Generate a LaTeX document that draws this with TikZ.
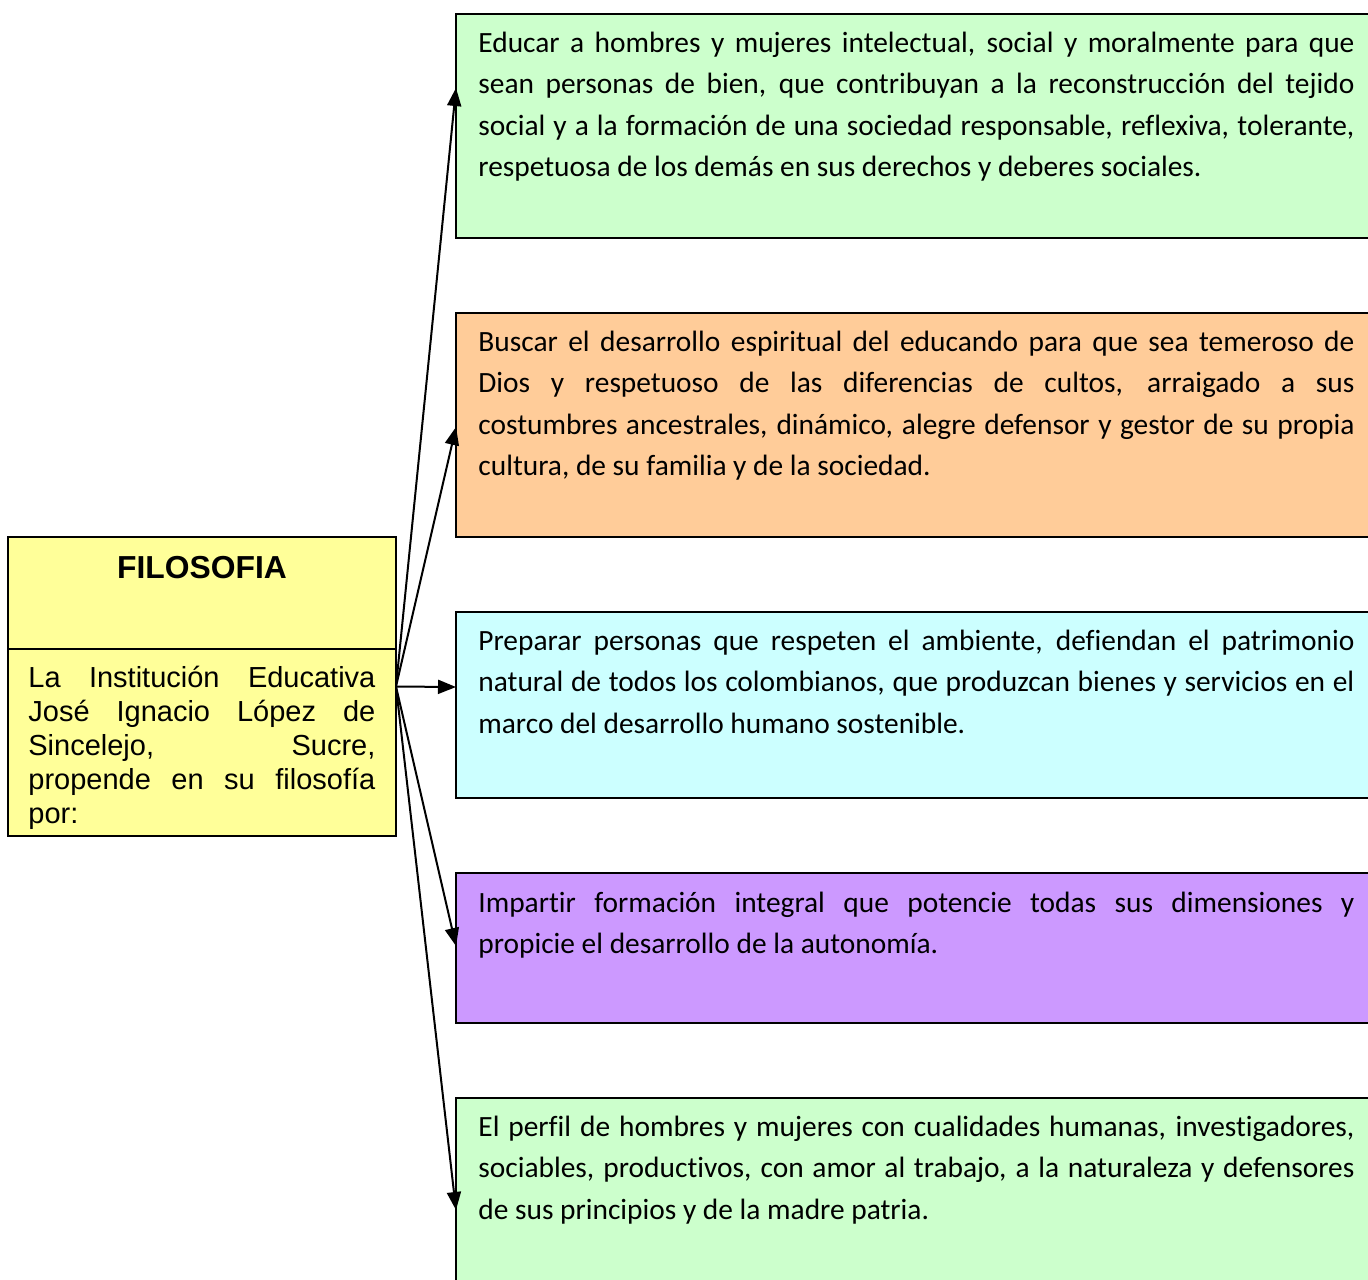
\documentclass[tikz,border=0pt]{standalone}
\usepackage{fontspec}
\setmainfont[Ligatures=CommonOff]{Carlito}
\newfontfamily\arialfont{Liberation Sans}
\usetikzlibrary{arrows.meta}
\definecolor{boxgreen}{HTML}{CCFFCC}
\definecolor{boxorange}{HTML}{FFCC99}
\definecolor{boxcyan}{HTML}{CCFFFF}
\definecolor{boxpurple}{HTML}{CC99FF}
\definecolor{boxyellow}{HTML}{FFFF99}
\begin{document}
\begin{tikzpicture}[x=0.5pt,y=-0.5pt,
  panel/.style={draw=black, line width=1pt, rectangle, anchor=north west,
    inner sep=0pt, outer sep=0pt, minimum width=470pt},
  bodytext/.style={anchor=north west, inner sep=0pt, text width=438pt,
    align=justify, font=\fontsize{14.7}{20.75}\selectfont},
  link/.style={line width=1pt, -{Triangle[length=9pt,width=7pt]}}]
\clip (0,0) rectangle (1368,1279);
\fill[white] (0,0) rectangle (1368,1279);

% right boxes
\node[panel, fill=boxgreen,  minimum height=112pt] (b1) at (456,14) {};
\node[panel, fill=boxorange, minimum height=112pt] (b2) at (456,313) {};
\node[panel, fill=boxcyan,   minimum height=93pt]  (b3) at (456,612) {};
\node[panel, fill=boxpurple, minimum height=75pt]  (b4) at (456,873) {};
\node[panel, fill=boxgreen,  minimum height=120pt] (b5) at (456,1098) {};

\node[bodytext] (t1) at (478,22) {\hyphenpenalty=10000\rule{0pt}{15pt}Educar a hombres y mujeres intelectual, social y moralmente para que\linebreak sean personas de bien, que contribuyan a la reconstrucción del tejido\linebreak social y a la formación de una sociedad responsable, reflexiva, tolerante,\linebreak respetuosa de los demás en sus derechos y deberes sociales.};
\node[bodytext] (t2) at (478,321) {\hyphenpenalty=10000\rule{0pt}{15pt}Buscar el desarrollo espiritual del educando para que sea temeroso de\linebreak Dios y respetuoso de las diferencias de cultos, arraigado a sus\linebreak costumbres ancestrales, dinámico, alegre defensor y gestor de su propia\linebreak cultura, de su familia y de la sociedad.};
\node[bodytext] (t3) at (478,620) {\hyphenpenalty=10000\rule{0pt}{15pt}Preparar personas que respeten el ambiente, defiendan el patrimonio\linebreak natural de todos los colombianos, que produzcan bienes y servicios en el\linebreak marco del desarrollo humano sostenible.};
\node[bodytext] (t4) at (478,882) {\hyphenpenalty=10000\rule{0pt}{15pt}Impartir formación integral que potencie todas sus dimensiones y\linebreak propicie el desarrollo de la autonomía.};
\node[bodytext] (t5) at (478,1106) {\hyphenpenalty=10000\rule{0pt}{15pt}El perfil de hombres y mujeres con cualidades humanas, investigadores,\linebreak sociables, productivos, con amor al trabajo, a la naturaleza y defensores\linebreak de sus principios y de la madre patria.};

% left box
\node[draw=black, line width=1pt, fill=boxyellow, rectangle, inner sep=0pt, outer sep=0pt,
  minimum width=194pt, minimum height=149.5pt] (filo) at (202,686.5) {};
\draw[line width=1pt] (filo.west |- 0,649) -- (filo.east |- 0,649);
\node[anchor=base, inner sep=0pt, font=\arialfont\bfseries\fontsize{15.9}{19}\selectfont] (title) at (202,578) {FILOSOFIA};
\node[anchor=north west, inner sep=0pt, text width=173.5pt, align=justify,
  font=\arialfont\fontsize{14.5}{17}\selectfont] (intro) at (28,657)
  {\hyphenpenalty=10000\rule{0pt}{15pt}La Institución Educativa\linebreak José Ignacio López de\linebreak Sincelejo, Sucre,\linebreak propende en su filosofía\linebreak por:};

% connectors
\draw[link] (filo.east) -- ([yshift=-37pt]b1.north west);
\draw[link] (filo.east) -- ([yshift=-57pt]b2.north west);
\draw[link] (filo.east) -- ([yshift=-37.5pt]b3.north west);
\draw[link] (filo.east) -- ([yshift=-36.5pt]b4.north west);
\draw[link] (filo.east) -- ([yshift=-56pt]b5.north west);
\end{tikzpicture}
\end{document}
